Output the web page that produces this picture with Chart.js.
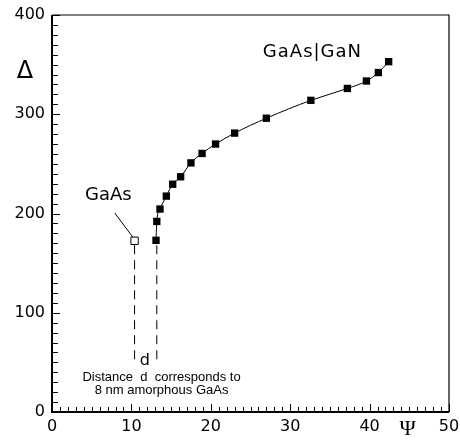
<!DOCTYPE html>
<html>
<head>
<meta charset="utf-8">
<script src="https://cdn.jsdelivr.net/npm/chart.js@4"></script>
<style>
  body { margin: 0; background: #fff; }
  #wrap { width: 460px; height: 445px; }
</style>
</head>
<body>
<div id="wrap"><canvas id="grafico"></canvas></div>
<script>
// GaAs|GaN measured points (Psi, Delta)
const psi   = [13.1, 13.2, 13.6, 14.4, 15.2, 16.2, 17.5, 18.9, 20.6, 23.0, 27.0, 32.6, 37.2, 39.6, 41.1, 42.4];
const delta = [173, 192, 204.5, 217.5, 229.5, 237, 251, 260.5, 270, 281, 296, 314, 326, 333.5, 342, 353];

// bare GaAs point
const gaasPsi = [10.4];
const gaasDelta = [172.5];

// dashed guides showing the distance d
const guideA = {psi: [10.4, 10.4], delta: [168, 49]};
const guideB = {psi: [13.2, 13.2], delta: [168, 49]};
// pointer from the "GaAs" label to the open square
const pointer = {psi: [7.9, 10.2], delta: [200.5, 176]};

const xTicks = [0, 10, 20, 30, 40, 50];
const yTicks = [0, 100, 200, 300, 400];

function pts(xs, ys){
    return xs.map(function(v, i){ return {x: v, y: ys[i]}; });
}

// frame, inward ticks and text labels
const decoracao = {
    id: 'decoracao',
    afterDraw: function(chart){
        const ctx = chart.ctx;
        const a = chart.chartArea;
        const x = chart.scales.x;
        const y = chart.scales.y;
        ctx.save();
        ctx.strokeStyle = '#000';

        // top and right (thin)
        ctx.lineWidth = 1.2;
        ctx.beginPath();
        ctx.moveTo(a.left, a.top); ctx.lineTo(a.right, a.top); ctx.lineTo(a.right, a.bottom);
        ctx.stroke();
        // left and bottom (heavier)
        ctx.lineWidth = 2;
        ctx.beginPath();
        ctx.moveTo(a.left, a.top); ctx.lineTo(a.left, a.bottom); ctx.lineTo(a.right, a.bottom);
        ctx.stroke();

        ctx.lineWidth = 1;
        ctx.beginPath();
        for (let v = 0; v <= 50; v += 1) {
            const px = Math.round(x.getPixelForValue(v)) + 0.5;
            const len = v % 10 === 0 ? 8 : 5;
            ctx.moveTo(px, a.bottom); ctx.lineTo(px, a.bottom - len);
        }
        for (let v = 0; v <= 400; v += 10) {
            const py = Math.round(y.getPixelForValue(v)) + 0.5;
            const len = v % 100 === 0 ? 8 : 6;
            ctx.moveTo(a.left, py); ctx.lineTo(a.left + len, py);
        }
        ctx.stroke();

        ctx.fillStyle = '#000';
        ctx.textAlign = 'center';
        ctx.textBaseline = 'middle';
        ctx.font = '18px "DejaVu Sans"';
        ctx.fillText('GaAs', x.getPixelForValue(7.1), y.getPixelForValue(218));
        ctx.letterSpacing = '1px';
        ctx.fillText('GaAs|GaN', x.getPixelForValue(32.8), y.getPixelForValue(362));
        ctx.letterSpacing = '0px';
        ctx.font = '16px "DejaVu Sans"';
        ctx.fillText('d', x.getPixelForValue(11.7), y.getPixelForValue(52));
        ctx.font = '13px "Liberation Sans"';
        ctx.fillText('Distance  d  corresponds to', x.getPixelForValue(13.8), y.getPixelForValue(34.5));
        ctx.fillText('8 nm amorphous GaAs', x.getPixelForValue(13.8), y.getPixelForValue(21.5));
        ctx.font = '24px "DejaVu Sans"';
        ctx.fillText('\u0394', 25, y.getPixelForValue(343));
        ctx.font = '22px "Liberation Serif"';
        ctx.fillText('\u03A8', x.getPixelForValue(44.8), 429);
        ctx.restore();
    }
};

const ctx = document.getElementById('grafico').getContext('2d');
const grafico = new Chart(ctx, {
    type: 'line',
    data: {
        datasets: [{
            data: pts(psi, delta),
            borderColor: '#000',
            borderWidth: 1,
            backgroundColor: '#000',
            pointStyle: 'rect',
            pointRadius: 5.2,
            pointBorderWidth: 0,
            cubicInterpolationMode: 'monotone',
            fill: false
        }, {
            data: pts(gaasPsi, gaasDelta),
            showLine: false,
            pointStyle: 'rect',
            pointRadius: 5.2,
            pointBackgroundColor: '#fff',
            pointBorderColor: '#000',
            pointBorderWidth: 1
        }, {
            data: pts(guideA.psi, guideA.delta),
            borderColor: '#000',
            borderWidth: 1,
            borderDash: [9, 6],
            pointRadius: 0
        }, {
            data: pts(guideB.psi, guideB.delta),
            borderColor: '#000',
            borderWidth: 1,
            borderDash: [9, 6],
            pointRadius: 0
        }, {
            data: pts(pointer.psi, pointer.delta),
            borderColor: '#000',
            borderWidth: 1,
            pointRadius: 0
        }]
    },
    options: {
        responsive: true,
        maintainAspectRatio: false,
        animation: false,
        layout: { padding: { top: 15, right: 11, left: 0, bottom: 0 } },
        plugins: {
            legend: { display: false },
            tooltip: { enabled: false }
        },
        scales: {
            x: {
                type: 'linear',
                min: 0,
                max: 50,
                afterFit: function(s){ s.height = 33; s.paddingLeft = 0; s.paddingRight = 0; },
                afterBuildTicks: function(s){ s.ticks = xTicks.map(function(v){ return {value: v}; }); },
                grid: { display: false, drawTicks: false },
                border: { display: false },
                ticks: { color: '#000', padding: 5, font: { family: 'DejaVu Sans', size: 16 } }
            },
            y: {
                type: 'linear',
                min: 0,
                max: 400,
                afterFit: function(s){ s.width = 52; s.paddingTop = 0; s.paddingBottom = 0; },
                afterBuildTicks: function(s){ s.ticks = yTicks.map(function(v){ return {value: v}; }); },
                grid: { display: false, drawTicks: false },
                border: { display: false },
                ticks: { color: '#000', padding: 7, font: { family: 'DejaVu Sans', size: 16 } }
            }
        }
    },
    plugins: [decoracao]
});
</script>
</body>
</html>
